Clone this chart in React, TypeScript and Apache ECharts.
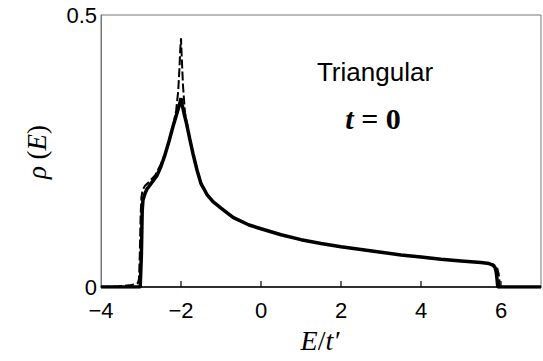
import React, { useEffect, useRef } from "react";
import * as echarts from "echarts";

const xTicks = [-4, -2, 0, 2, 4, 6];
const yTicks = [0, 0.5];

const solidE = [-4, -3.02, -2.99, -2.97, -2.95, -2.9, -2.85, -2.75, -2.6, -2.5, -2.4, -2.3, -2.2, -2.12, -2.06, -2.02, -2.0, -1.97, -1.92, -1.86, -1.78, -1.7, -1.6, -1.5, -1.35, -1.2, -1.0, -0.7, -0.3, 0, 0.5, 1.0, 1.5, 2.0, 2.5, 3.0, 3.5, 4.0, 4.5, 5.0, 5.5, 5.7, 5.8, 5.85, 5.88, 5.9, 5.92, 7];
const solidRho = [0, 0, 0.06, 0.14, 0.16, 0.172, 0.18, 0.19, 0.205, 0.222, 0.243, 0.268, 0.295, 0.315, 0.33, 0.34, 0.347, 0.335, 0.318, 0.3, 0.272, 0.245, 0.215, 0.19, 0.17, 0.157, 0.145, 0.128, 0.114, 0.107, 0.096, 0.087, 0.08, 0.074, 0.069, 0.064, 0.059, 0.055, 0.051, 0.048, 0.045, 0.043, 0.04, 0.036, 0.028, 0.015, 0, 0];

const dashE = [-4, -3.6, -3.3, -3.15, -3.08, -3.05, -3.03, -3.01, -2.99, -2.96, -2.9, -2.8, -2.65, -2.5, -2.35, -2.2, -2.12, -2.07, -2.04, -2.02, -2.0, -1.98, -1.95, -1.9, -1.85, -1.78, -1.7, -1.6, -1.5, -1.35, -1.2, -1.0, -0.7, -0.3, 0, 0.5, 1.0, 1.5, 2.0, 2.5, 3.0, 3.5, 4.0, 4.5, 5.0, 5.5, 5.7, 5.82, 5.9, 5.94, 5.96, 5.97, 7];
const dashRho = [0, 0.001, 0.003, 0.005, 0.007, 0.015, 0.06, 0.13, 0.165, 0.178, 0.186, 0.193, 0.205, 0.226, 0.255, 0.295, 0.325, 0.36, 0.4, 0.435, 0.457, 0.42, 0.37, 0.32, 0.3, 0.272, 0.245, 0.215, 0.19, 0.17, 0.157, 0.145, 0.128, 0.114, 0.107, 0.096, 0.087, 0.08, 0.074, 0.069, 0.064, 0.059, 0.055, 0.051, 0.048, 0.045, 0.043, 0.041, 0.036, 0.025, 0.012, 0, 0];

const labelTitle = "Triangular";

export default function App() {
  const ref = useRef<HTMLDivElement>(null);
  useEffect(() => {
    if (!ref.current) return;
    const chart = echarts.init(ref.current, null, { renderer: "svg" });
    const pairs = (xs: number[], ys: number[]) => xs.map((x, i) => [x, ys[i]]);
    const sans = "Liberation Sans";
    const serif = "Liberation Serif";
    chart.setOption({
      animation: false,
      backgroundColor: "#fff",
      grid: {
        left: 101,
        right: 2,
        top: 15,
        bottom: 74,
        show: true,
        borderColor: "#777",
        borderWidth: 1,
      },
      xAxis: {
        type: "value",
        min: -4,
        max: 7,
        interval: 2,
        axisLine: { show: true, onZero: false, lineStyle: { color: "#000", width: 1.5 } },
        axisTick: { show: false },
        splitLine: { show: false },
        axisLabel: {
          margin: 12,
          color: "#000",
          fontFamily: sans,
          fontSize: 22,
          showMaxLabel: false,
          formatter: (v: number) => (xTicks.includes(v) ? String(v).replace("-", "\u2212") : ""),
        },
      },
      yAxis: {
        type: "value",
        min: 0,
        max: 0.5,
        interval: 0.5,
        axisLine: { show: true, onZero: false, lineStyle: { color: "#777", width: 1 } },
        axisTick: { show: false },
        splitLine: { show: false },
        axisLabel: {
          margin: 4,
          color: "#000",
          fontFamily: sans,
          fontSize: 22,
          formatter: (v: number) => (yTicks.includes(v) ? String(v) : ""),
        },
      },
      series: [
        {
          type: "line",
          data: pairs(solidE, solidRho),
          showSymbol: false,
          lineStyle: { color: "#000", width: 3.5 },
          z: 3,
        },
        {
          type: "line",
          data: pairs(dashE, dashRho),
          showSymbol: false,
          lineStyle: { color: "#000", width: 2, type: [9, 3] },
          z: 4,
        },
        {
          type: "scatter",
          silent: true,
          data: xTicks.slice(1).map((v) => [v, 0]),
          symbol: "rect",
          symbolSize: [1.5, 6],
          symbolOffset: [0, -3],
          itemStyle: { color: "#000" },
          z: 5,
        },
      ],
      graphic: [
        {
          type: "text",
          x: 375,
          y: 72,
          style: {
            text: labelTitle,
            fontFamily: sans,
            fontSize: 26,
            fill: "#000",
            align: "center",
            verticalAlign: "middle",
          },
        },
        {
          type: "text",
          x: 373,
          y: 118,
          style: {
            text: "{i|t}{u| = 0}",
            align: "center",
            verticalAlign: "middle",
            rich: {
              i: { fontFamily: serif, fontSize: 30, fontStyle: "italic", fontWeight: "bold", fill: "#000" },
              u: { fontFamily: serif, fontSize: 30, fontWeight: "bold", fill: "#000" },
            },
          },
        },
        {
          type: "text",
          x: 37,
          y: 152,
          rotation: Math.PI / 2,
          style: {
            text: "{i|\u03c1}{u| (}{i|E}{u|)}",
            align: "center",
            verticalAlign: "middle",
            rich: {
              i: { fontFamily: serif, fontSize: 27, fontStyle: "italic", fill: "#000" },
              u: { fontFamily: serif, fontSize: 27, fill: "#000" },
            },
          },
        },
        {
          type: "text",
          x: 320,
          y: 340,
          style: {
            text: "{i|E}{u|/}{i|t\u2032}",
            align: "center",
            verticalAlign: "middle",
            rich: {
              i: { fontFamily: serif, fontSize: 28, fontStyle: "italic", fill: "#000" },
              u: { fontFamily: serif, fontSize: 28, fill: "#000" },
            },
          },
        },
      ],
    });
    return () => chart.dispose();
  }, []);
  return <div ref={ref} style={{ width: 543, height: 361, position: "absolute", left: 0, top: 0 }} />;
}
